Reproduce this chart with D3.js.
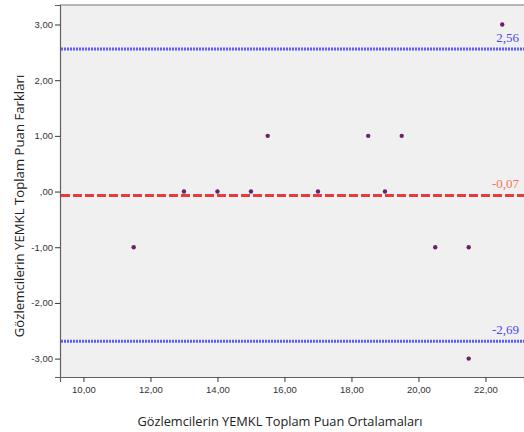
<!DOCTYPE html>
<html>
<head>
<meta charset="utf-8">
<script src="https://cdn.jsdelivr.net/npm/d3@7"></script>
<style>
  body { margin: 0; background: #fff; }
  .tick text { font-family: Arial, "Liberation Sans", sans-serif; font-size: 9.5px; fill: #333; }
</style>
</head>
<body>
<div id="chart"></div>
<script>
// DATA
const meanX = [11.5, 13, 14, 15, 15.5, 17, 18.5, 19, 19.5, 20.5, 21.5, 21.5, 22.5];
const diffY = [-1, 0, 0, 0, 1, 0, 1, 0, 1, -1, -1, -3, 3];
const xTicks = [10, 12, 14, 16, 18, 20, 22];
const yTicks = [-3, -2, -1, 0, 1, 2, 3];
const upperLimit = 2.56;
const meanDiff = -0.07;
const lowerLimit = -2.69;

const width = 524;
const height = 432;
const margin = {top: 5, right: 0, bottom: 55, left: 60};

const svg = d3.select('#chart')
    .append('svg')
        .attr('width', width)
        .attr('height', height);

const x = d3.scaleLinear()
    .domain([9.3, 23.15])
    .range([margin.left, width - margin.right]);
const y = d3.scaleLinear()
    .domain([-3.33, 3.35])
    .range([height - margin.bottom, margin.top]);

// SPSS style: comma decimals, no leading zero
const fmt = d => d.toFixed(2).replace('.', ',').replace(/^0,/, ',').replace(/^-0,/, '-,');

// plot background
svg.append('rect')
    .attr('x', margin.left)
    .attr('y', margin.top)
    .attr('width', width - margin.left - margin.right)
    .attr('height', height - margin.top - margin.bottom)
    .attr('fill', '#f0f0f0');

// top border
svg.append('line')
    .attr('x1', margin.left).attr('x2', width)
    .attr('y1', margin.top).attr('y2', margin.top)
    .attr('stroke', '#a0a0a0')
    .attr('stroke-width', 1.5);

// axes
svg.append('g')
    .attr('transform', `translate(0,${height - margin.bottom})`)
    .call(d3.axisBottom(x).tickValues(xTicks).tickFormat(fmt).tickSize(5).tickPadding(4))
    .call(g => g.select('.domain').attr('stroke', '#606060').attr('stroke-width', 1.2))
    .call(g => g.selectAll('.tick line').attr('stroke', '#333'));

svg.append('g')
    .attr('transform', `translate(${margin.left},0)`)
    .call(d3.axisLeft(y).tickValues(yTicks).tickFormat(fmt).tickSize(5).tickPadding(2))
    .call(g => g.select('.domain').attr('stroke', '#606060').attr('stroke-width', 1.2))
    .call(g => g.selectAll('.tick line').attr('stroke', '#333'));

// reference lines
const refs = [
    {v: upperLimit, color: '#5b5bff', dash: '2,1', label: '#4848ee'},
    {v: meanDiff, color: '#ea3a3e', dash: '9,3', label: '#f0785a'},
    {v: lowerLimit, color: '#5b5bff', dash: '2,1', label: '#4848ee'}
];

svg.selectAll('.ref')
    .data(refs)
    .join('line')
        .attr('class', 'ref')
        .attr('x1', margin.left + 1)
        .attr('x2', width)
        .attr('y1', d => y(d.v))
        .attr('y2', d => y(d.v))
        .attr('stroke', d => d.color)
        .attr('stroke-width', 3)
        .attr('stroke-dasharray', d => d.dash);

svg.selectAll('.ref-label')
    .data(refs)
    .join('text')
        .attr('class', 'ref-label')
        .attr('x', 519)
        .attr('y', d => y(d.v) - 7)
        .attr('text-anchor', 'end')
        .style('font-family', "'Liberation Serif', 'DejaVu Serif', serif")
        .style('font-size', '13px')
        .attr('fill', d => d.label)
        .text(d => d.v.toFixed(2).replace('.', ','));

// points
svg.selectAll('.pt')
    .data(meanX)
    .join('circle')
        .attr('class', 'pt')
        .attr('cx', d => x(d))
        .attr('cy', (d, i) => y(diffY[i]))
        .attr('r', 2.2)
        .attr('fill', '#6b1f6e');

// axis titles
svg.append('text')
    .attr('x', 280)
    .attr('y', 426)
    .attr('text-anchor', 'middle')
    .attr('font-family', '"Open Sans", "Noto Sans", sans-serif')
    .attr('font-size', 12.8)
    .attr('fill', '#222')
    .text('Gözlemcilerin YEMKL Toplam Puan Ortalamaları');

svg.append('text')
    .attr('transform', `translate(24, ${206}) rotate(-90)`)
    .attr('text-anchor', 'middle')
    .attr('font-family', '"Open Sans", "Noto Sans", sans-serif')
    .attr('font-size', 13.2)
    .attr('fill', '#222')
    .text('Gözlemcilerin YEMKL Toplam Puan Farkları');
</script>
</body>
</html>
